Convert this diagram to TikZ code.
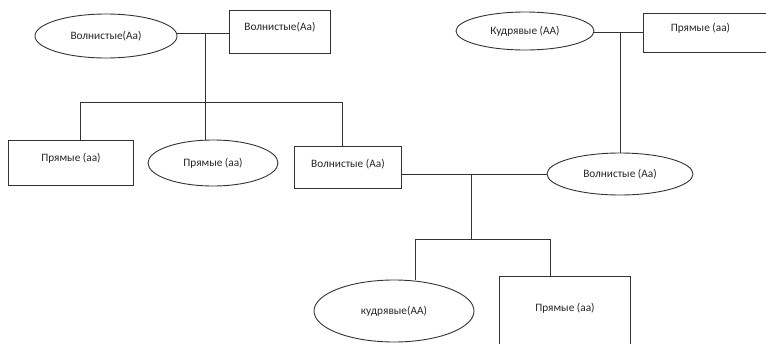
\documentclass[tikz,border=0pt]{standalone}
\usepackage{fontspec}
\setmainfont{Carlito}
\usetikzlibrary{shapes.geometric}
\begin{document}
\begin{tikzpicture}[x=1pt,y=-1pt,
  conn/.style={draw=black!80, line width=0.9pt},
  txt/.style={font=\fontsize{11.3}{13}\selectfont, text=black!85},
  ell/.style={draw=black!80, line width=0.9pt, ellipse, inner sep=0pt, txt},
  box/.style={draw=black!80, line width=0.9pt, rectangle, inner sep=0pt, anchor=north west}
]
\clip (0,0) rectangle (766,343);
\useasboundingbox (0,0) rectangle (766,343);
% nodes
\node[ell, minimum width=142pt, minimum height=44pt] (A) at (106,36) {Волнистые(Аа)};
\node[box, minimum width=101pt, minimum height=43pt,
  label={[txt,anchor=center,yshift=-17pt]north:Волнистые(Аа)}] (B) at (229,10) {};
\node[box, minimum width=125pt, minimum height=45pt,
  label={[txt,anchor=center,yshift=-18pt]north:Прямые (аа)}] (C) at (8,140) {};
\node[ell, minimum width=130pt, minimum height=46pt] (D) at (213,163) {Прямые (аа)};
\node[box, minimum width=107pt, minimum height=42pt,
  label={[txt,anchor=center,yshift=-18pt]north:Волнистые (Аа)}] (E) at (294,146) {};
\node[ell, minimum width=146pt, minimum height=42pt] (F) at (620,174) {Волнистые (Аа)};
\node[ell, minimum width=160pt, minimum height=62pt] (G) at (394,311) {кудрявые(АА)};
\node[box, minimum width=131pt, minimum height=84pt,
  label={[txt,anchor=center,yshift=-32pt]north:Прямые (аа)}] (H) at (499,276) {};
\node[ell, minimum width=138pt, minimum height=38pt] (I) at (525,31) {Кудрявые (АА)};
\node[box, minimum width=137pt, minimum height=39pt,
  label={[txt,anchor=center,yshift=-15pt,xshift=-11.5pt]north:Прямые (аа)}] (J) at (643,13) {};
% junction coordinates
\coordinate (j1) at (205,33);
\coordinate (b1l) at (80,102);
\coordinate (b1r) at (342,102);
\coordinate (j2) at (471,174);
\coordinate (m2) at (471,239);
\coordinate (b2l) at (415,239);
\coordinate (b2r) at (550,239);
\coordinate (j3) at (620,32);
% connectors: first family
\draw[conn] (A.east |- j1) -- (B.west |- j1);
\draw[conn] (j1) -- (j1 |- D.north);
\draw[conn] (b1l) -- (b1r);
\draw[conn] (b1l) -- (b1l |- C.north);
\draw[conn] (b1r) -- (b1r |- E.north);
% second family
\draw[conn] (I.east |- j3) -- (J.west |- j3);
\draw[conn] (j3) -- (j3 |- F.north);
% third family
\draw[conn] (E.east |- j2) -- (F.west |- j2);
\draw[conn] (j2) -- (m2);
\draw[conn] (b2l) -- (b2r);
\draw[conn] (b2l) -- (b2l |- G.north);
\draw[conn] (b2r) -- (b2r |- H.north);
\end{tikzpicture}
\end{document}
